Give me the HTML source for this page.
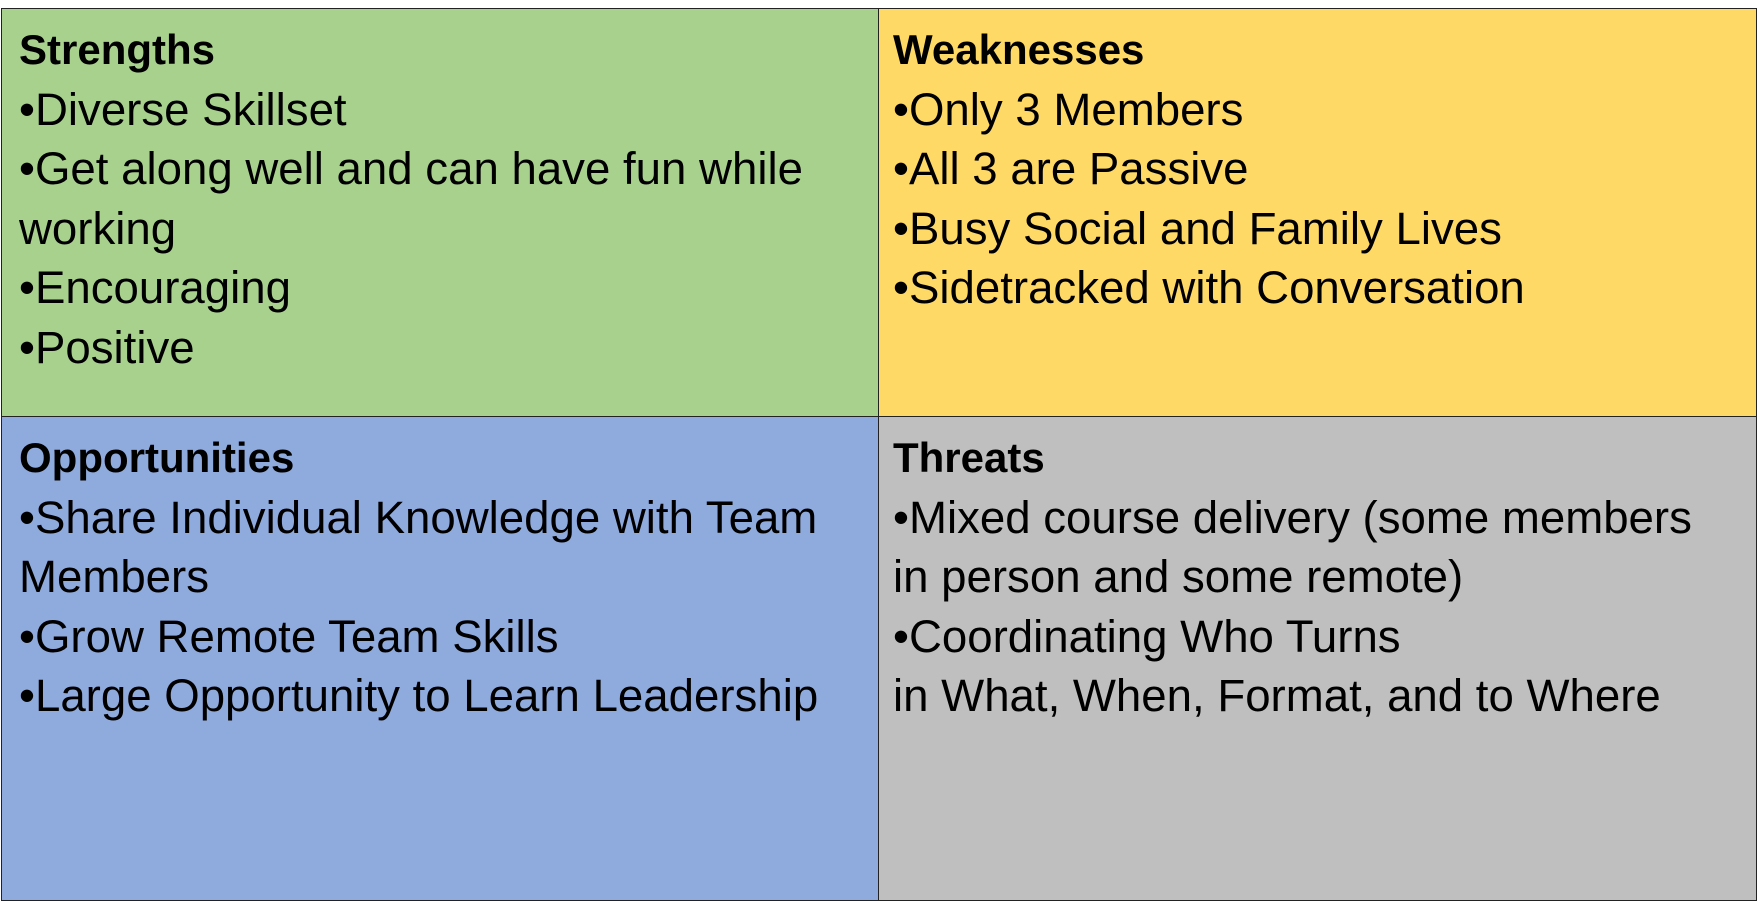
<!DOCTYPE html>
<html><head><meta charset="utf-8"><style>
html,body{margin:0;padding:0;background:#fff;width:1758px;height:903px;overflow:hidden}
.c{position:absolute;box-sizing:border-box;border:1.5px solid #222;}
.t{position:absolute;left:17px;top:10px;font-family:"Liberation Sans",sans-serif;font-size:45.6px;line-height:59.6px;color:#000;white-space:nowrap}
b{font-weight:bold;font-size:42px}
</style></head><body>
<div class="c" style="left:1px;top:8px;width:879px;height:410px;background:#A9D18E">
<div class="t"><b>Strengths</b><br>•Diverse Skillset<br>•Get along well and can have fun while<br>working<br>•Encouraging<br>•Positive</div></div>
<div class="c" style="left:878px;top:8px;width:879px;height:410px;background:#FFD966">
<div class="t" style="left:14px"><b>Weaknesses</b><br>•Only 3 Members<br>•All 3 are Passive<br>•Busy Social and Family Lives<br>•Sidetracked with Conversation</div></div>
<div class="c" style="left:1px;top:416px;width:879px;height:485px;background:#8FAADC">
<div class="t"><b>Opportunities</b><br>•Share Individual Knowledge with Team<br>Members<br>•Grow Remote Team Skills<br>•Large Opportunity to Learn Leadership</div></div>
<div class="c" style="left:878px;top:416px;width:879px;height:485px;background:#BFBFBF">
<div class="t" style="left:14px"><b>Threats</b><br>•Mixed course delivery (some members<br>in person and some remote)<br>•Coordinating Who Turns<br>in What, When, Format, and to Where</div></div>
</body></html>
